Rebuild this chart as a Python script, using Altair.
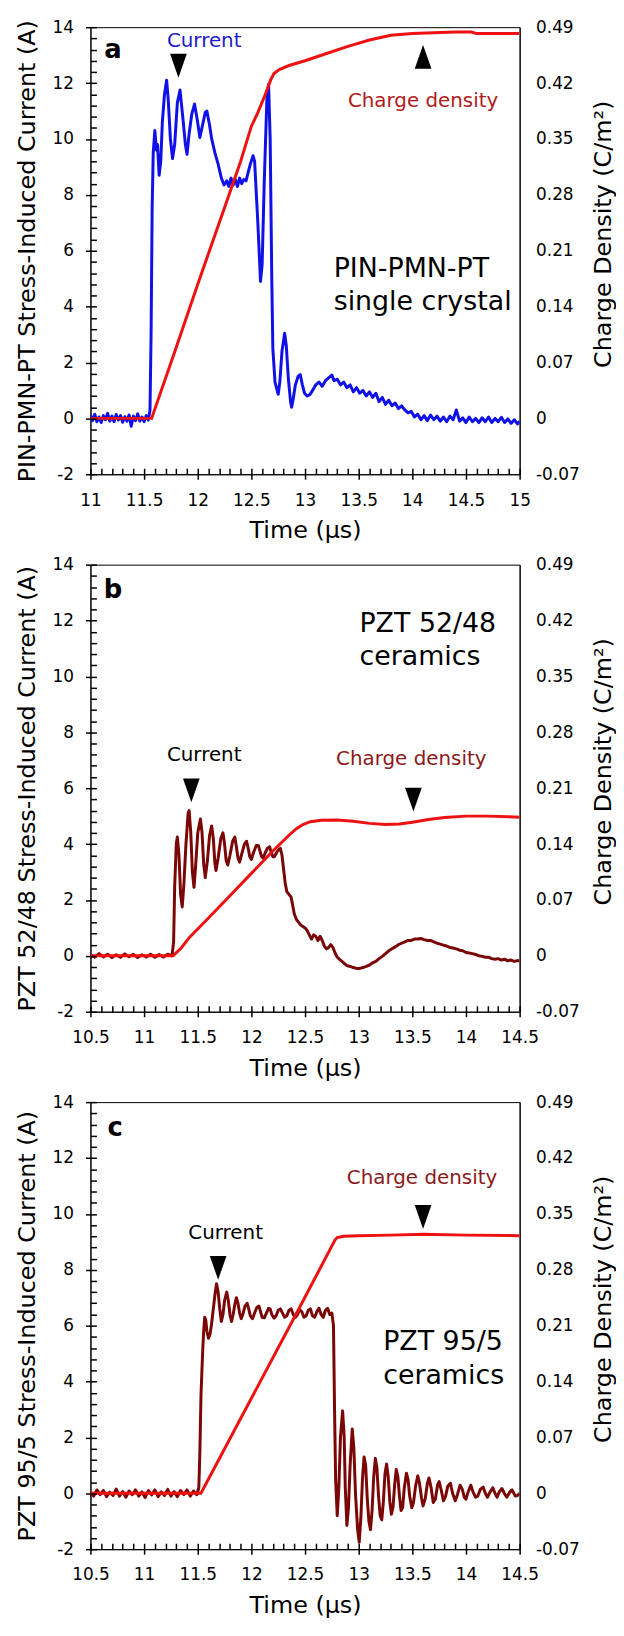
import altair as alt
import pandas as pd

FONT = "DejaVu Sans"
W, H = 432, 450

# ---------------- tick values ----------------
Y_TICKS = [-2, 0, 2, 4, 6, 8, 10, 12, 14]
Q_TICKS = [-0.07, 0, 0.07, 0.14, 0.21, 0.28, 0.35, 0.42, 0.49]
A_X_TICKS = [11, 11.5, 12, 12.5, 13, 13.5, 14, 14.5, 15]
BC_X_TICKS = [10.5, 11, 11.5, 12, 12.5, 13, 13.5, 14, 14.5]

# ---------------- panel a : PIN-PMN-PT ----------------
A_CUR_T = [11.00, 11.02, 11.04, 11.06, 11.08, 11.10, 11.12, 11.14, 11.16, 11.18, 11.20, 11.22, 11.24, 11.26,
           11.28, 11.30, 11.32, 11.34, 11.36, 11.38, 11.40, 11.42, 11.44, 11.46, 11.48, 11.50, 11.52, 11.54,
           11.555, 11.565, 11.575, 11.585, 11.60, 11.615, 11.625, 11.64, 11.655, 11.67, 11.69, 11.71, 11.725,
           11.745, 11.765, 11.785, 11.81, 11.835, 11.86, 11.885, 11.90, 11.92, 11.945, 11.97, 11.995, 12.02,
           12.045, 12.07, 12.085, 12.11, 12.13, 12.16, 12.19, 12.22, 12.245, 12.27, 12.29, 12.31, 12.33, 12.35,
           12.37, 12.39, 12.41, 12.43, 12.45, 12.47, 12.49, 12.515, 12.53, 12.56, 12.585, 12.60, 12.62, 12.645,
           12.66, 12.675, 12.69, 12.70, 12.72, 12.75, 12.765, 12.785, 12.81, 12.825, 12.845, 12.865, 12.875,
           12.89, 12.91, 12.935, 12.955, 12.975, 12.995, 13.02, 13.045, 13.07, 13.10, 13.13, 13.16, 13.19,
           13.22, 13.25, 13.27, 13.30, 13.33, 13.36, 13.39, 13.42, 13.45, 13.48, 13.51, 13.54, 13.57, 13.60,
           13.63, 13.66, 13.69, 13.72, 13.75, 13.78, 13.81, 13.84, 13.87, 13.90, 13.93, 13.96, 13.99, 14.02,
           14.05, 14.08, 14.11, 14.14, 14.17, 14.20, 14.23, 14.26, 14.29, 14.32, 14.35, 14.38, 14.41, 14.44,
           14.47, 14.50, 14.53, 14.56, 14.59, 14.62, 14.65, 14.68, 14.71, 14.74, 14.77, 14.80, 14.83, 14.86,
           14.89, 14.92, 14.95, 14.98, 15.00]
A_CUR_I = [0.12, -0.08, 0.15, -0.12, 0.05, -0.15, 0.10, -0.05, 0.18, -0.10, 0.08, -0.12, 0.14, -0.06,
           0.10, -0.14, 0.06, -0.10, 0.12, -0.28, 0.08, -0.08, 0.16, -0.10, 0.05, -0.12, 0.10, -0.06,
           0.30, 3.0, 7.5, 9.5, 10.3, 9.6, 9.8, 8.7, 9.2, 10.6, 11.6, 12.1, 11.4,
           10.0, 9.3, 9.8, 11.3, 11.75, 10.8, 9.8, 9.45, 10.2, 10.9, 11.25, 10.7, 10.05,
           10.5, 10.95, 11.0, 10.5, 10.0, 9.5, 9.1, 8.6, 8.35, 8.5, 8.3, 8.6, 8.35, 8.55,
           8.3, 8.6, 8.4, 8.55, 8.5, 8.8, 9.1, 9.4, 9.2, 7.0, 4.9, 5.5, 8.5, 11.5,
           11.95, 10.0, 5.0, 2.5, 1.3, 0.86, 1.3, 2.4, 3.05, 2.6, 1.4, 0.6, 0.4,
           0.7, 1.2, 1.5, 1.57, 1.2, 0.9, 0.8, 0.85, 1.0, 1.2, 1.3, 1.15, 1.35,
           1.45, 1.55, 1.35, 1.4, 1.2, 1.3, 1.1, 1.2, 0.95, 1.1, 0.9, 1.0, 0.8, 0.95,
           0.75, 0.9, 0.6, 0.75, 0.5, 0.65, 0.45, 0.55, 0.35, 0.45, 0.3, 0.2, 0.25, 0.05,
           0.15, -0.05, 0.10, -0.08, 0.12, -0.05, 0.08, -0.10, 0.05, -0.12, 0.08, -0.05, 0.30, -0.10,
           0.02, -0.15, 0.05, -0.12, 0.0, -0.15, 0.02, -0.12, 0.05, -0.15, 0.0, -0.12, 0.04, -0.15,
           -0.02, -0.18, -0.05, -0.20, -0.10]
A_Q_T = [11.0, 11.57, 11.8, 12.0, 12.26, 12.4, 12.5, 12.56, 12.63, 12.68, 12.71, 12.76, 12.85, 13.0,
         13.2, 13.4, 13.6, 13.8, 14.0, 14.2, 14.4, 14.55, 14.6, 15.0]
A_Q = [0, 0, 0.089, 0.168, 0.268, 0.322, 0.366, 0.383, 0.406, 0.424, 0.432, 0.437, 0.442, 0.448,
       0.457, 0.466, 0.474, 0.480, 0.482, 0.483, 0.484, 0.484, 0.482, 0.482]

# ---------------- panel b : PZT 52/48 ----------------
B_CUR_T = [10.50, 10.54, 10.58, 10.62, 10.66, 10.70, 10.74, 10.78, 10.82, 10.86, 10.90, 10.94, 10.98, 11.02,
           11.06, 11.10, 11.14, 11.18, 11.22, 11.26, 11.275, 11.285, 11.30, 11.31, 11.325, 11.34, 11.355,
           11.37, 11.39, 11.41, 11.42, 11.435, 11.45, 11.465, 11.48, 11.50, 11.525, 11.54, 11.555, 11.57,
           11.59, 11.61, 11.63, 11.645, 11.66, 11.67, 11.69, 11.715, 11.735, 11.75, 11.765, 11.78, 11.80,
           11.825, 11.845, 11.86, 11.875, 11.89, 11.91, 11.935, 11.955, 11.97, 11.985, 12.00, 12.02, 12.045,
           12.065, 12.08, 12.095, 12.11, 12.13, 12.15, 12.17, 12.185, 12.20, 12.215, 12.235, 12.255, 12.27,
           12.285, 12.30, 12.315, 12.33, 12.35, 12.37, 12.385, 12.40, 12.42, 12.44, 12.46, 12.48, 12.50,
           12.52, 12.54, 12.56, 12.58, 12.60, 12.62, 12.64, 12.66, 12.68, 12.70, 12.72, 12.74, 12.76, 12.78,
           12.80, 12.83, 12.86, 12.89, 12.92, 12.95, 12.98, 13.01, 13.04, 13.07, 13.10, 13.13, 13.16, 13.19,
           13.22, 13.25, 13.28, 13.31, 13.34, 13.37, 13.40, 13.43, 13.46, 13.49, 13.52, 13.55, 13.58, 13.61,
           13.64, 13.67, 13.70, 13.73, 13.76, 13.79, 13.82, 13.85, 13.88, 13.91, 13.94, 13.97, 14.00, 14.03,
           14.06, 14.09, 14.12, 14.15, 14.18, 14.21, 14.24, 14.27, 14.30, 14.33, 14.36, 14.39, 14.42, 14.45,
           14.48, 14.50]
B_CUR_I = [0.05, -0.05, 0.08, -0.04, 0.06, -0.06, 0.04, -0.05, 0.07, -0.03, 0.05, -0.06, 0.04, -0.04,
           0.06, -0.05, 0.05, -0.04, 0.06, 0.0, 0.5, 2.5, 4.0, 4.25, 3.6, 2.2, 1.75,
           2.5, 4.0, 5.1, 5.2, 4.4, 3.0, 2.45, 3.2, 4.4, 4.9, 4.4, 3.3, 2.8,
           3.4, 4.3, 4.65, 4.2, 3.3, 3.05, 3.5, 4.2, 4.4, 4.0, 3.4, 3.25, 3.6,
           4.1, 4.25, 3.9, 3.5, 3.35, 3.65, 4.0, 4.1, 3.85, 3.55, 3.45, 3.7, 3.95,
           3.95, 3.75, 3.55, 3.5, 3.7, 3.85, 3.9, 3.7, 3.55, 3.55, 3.7, 3.8, 3.85,
           3.6, 3.1, 2.6, 2.3, 2.2, 2.1, 1.8, 1.5, 1.3, 1.2, 1.1, 1.05, 1.0,
           0.9, 0.75, 0.6, 0.75, 0.7, 0.55, 0.7, 0.55, 0.35, 0.25, 0.3, 0.4, 0.3, 0.1,
           -0.05, -0.15, -0.25, -0.35, -0.38, -0.42, -0.45, -0.45, -0.42, -0.38, -0.33, -0.25, -0.2, -0.1,
           -0.02, 0.08, 0.18, 0.25, 0.32, 0.40, 0.45, 0.50, 0.55, 0.55, 0.60, 0.60, 0.62, 0.58,
           0.55, 0.55, 0.50, 0.45, 0.42, 0.38, 0.35, 0.30, 0.28, 0.25, 0.20, 0.18, 0.12, 0.10,
           0.08, 0.05, 0.0, -0.02, -0.05, -0.05, -0.10, -0.12, -0.10, -0.15, -0.12, -0.18, -0.15, -0.20,
           -0.17, -0.18]
B_Q_T = [10.5, 11.27, 11.35, 11.42, 11.6, 11.8, 12.0, 12.2, 12.36, 12.42, 12.48, 12.55, 12.65, 12.8,
         12.95, 13.1, 13.25, 13.38, 13.5, 13.65, 13.8, 14.0, 14.2, 14.4, 14.5]
B_Q = [0, 0, 0.0105, 0.0228, 0.0473, 0.0753, 0.1033, 0.1313, 0.1523, 0.1593, 0.1645, 0.168, 0.1698, 0.1701,
       0.1687, 0.1659, 0.1645, 0.1652, 0.1673, 0.1708, 0.1733, 0.175, 0.175, 0.1743, 0.1736]

# ---------------- panel c : PZT 95/5 ----------------
C_CUR_T = [10.50, 10.53, 10.56, 10.59, 10.62, 10.65, 10.68, 10.71, 10.74, 10.77, 10.80, 10.83, 10.86, 10.89,
           10.92, 10.95, 10.98, 11.01, 11.04, 11.07, 11.10, 11.13, 11.16, 11.19, 11.22, 11.25, 11.28, 11.31,
           11.34, 11.37, 11.40, 11.43, 11.46, 11.49, 11.51, 11.52, 11.53, 11.545, 11.555, 11.565, 11.575,
           11.585, 11.60, 11.615, 11.63, 11.645, 11.66, 11.675, 11.69, 11.705, 11.72, 11.735, 11.75, 11.77,
           11.785, 11.80, 11.815, 11.83, 11.845, 11.86, 11.875, 11.89, 11.905, 11.92, 11.94, 11.96, 11.975,
           11.99, 12.01, 12.03, 12.05, 12.07, 12.085, 12.10, 12.12, 12.14, 12.16, 12.175, 12.19, 12.21, 12.23,
           12.25, 12.27, 12.29, 12.31, 12.33, 12.35, 12.37, 12.39, 12.41, 12.43, 12.45, 12.47, 12.49, 12.51,
           12.53, 12.55, 12.57, 12.59, 12.61, 12.63, 12.65, 12.67, 12.69, 12.71, 12.73, 12.75, 12.765, 12.775,
           12.785, 12.80, 12.815, 12.83, 12.85, 12.865, 12.875, 12.89, 12.905, 12.92, 12.94, 12.955, 12.97,
           12.99, 13.005, 13.02, 13.035, 13.05, 13.065, 13.08, 13.095, 13.11, 13.125, 13.14, 13.155, 13.17,
           13.185, 13.20, 13.215, 13.23, 13.245, 13.26, 13.275, 13.29, 13.305, 13.32, 13.335, 13.35, 13.365,
           13.38, 13.395, 13.41, 13.425, 13.445, 13.46, 13.475, 13.495, 13.51, 13.53, 13.55, 13.565, 13.585,
           13.60, 13.62, 13.64, 13.655, 13.675, 13.695, 13.715, 13.735, 13.75, 13.77, 13.79, 13.81, 13.83,
           13.855, 13.875, 13.90, 13.92, 13.945, 13.965, 13.985, 14.00, 14.02, 14.045, 14.065, 14.09, 14.11,
           14.135, 14.16, 14.18, 14.20, 14.225, 14.25, 14.27, 14.29, 14.31, 14.335, 14.36, 14.38, 14.41,
           14.43, 14.46, 14.48, 14.50]
C_CUR_I = [0.05, -0.10, 0.12, -0.05, 0.10, -0.12, 0.04, -0.08, 0.15, -0.10, 0.06, -0.14, 0.08, -0.05,
           0.12, -0.10, 0.05, -0.15, 0.10, -0.06, 0.12, -0.12, 0.05, -0.08, 0.14, -0.10, 0.06, -0.12,
           0.10, -0.05, 0.12, -0.10, 0.08, -0.05, 0.20, 1.5, 3.5, 5.0, 5.8, 6.3, 6.2,
           5.8, 5.55, 5.7, 6.1, 6.6, 7.1, 7.5, 7.2, 6.6, 6.15, 6.4, 6.9, 7.2,
           6.9, 6.4, 6.15, 6.4, 6.75, 7.0, 6.8, 6.45, 6.25, 6.4, 6.7, 6.8, 6.6,
           6.35, 6.25, 6.45, 6.65, 6.7, 6.5, 6.3, 6.28, 6.45, 6.62, 6.6, 6.4, 6.27, 6.35,
           6.55, 6.6, 6.45, 6.3, 6.35, 6.55, 6.6, 6.4, 6.3, 6.4, 6.58, 6.5, 6.3, 6.35,
           6.55, 6.6, 6.35, 6.3, 6.5, 6.62, 6.4, 6.3, 6.55, 6.62, 6.4, 6.45, 6.0, 3.0,
           0.5, -0.8, 0.2, 2.0, 2.95, 2.0, 0.2, -1.15, -0.5, 1.0, 2.3, 1.6, 0.0,
           -1.3, -1.75, -0.9, 0.5, 1.3, 1.0, -0.2, -1.0, -1.3, -0.6, 0.6, 1.25, 0.9,
           -0.1, -0.8, -0.95, -0.3, 0.7, 1.05, 0.6, -0.3, -0.75, -0.5, 0.3, 0.85, 0.6,
           -0.1, -0.62, -0.5, 0.2, 0.72, 0.5, -0.1, -0.52, -0.35, 0.25, 0.62, 0.4, -0.15,
           -0.45, -0.2, 0.35, 0.55, 0.2, -0.33, -0.2, 0.3, 0.42, 0.1, -0.27, -0.1, 0.25,
           0.36, 0.0, -0.27, -0.05, 0.29, 0.15, -0.15, -0.21, 0.05, 0.29, 0.05, -0.14, -0.10,
           0.15, 0.22, 0.0, -0.14, 0.05, 0.20, 0.0, -0.14, 0.05, 0.17, -0.02, -0.14, 0.05,
           0.12, -0.10, -0.08, 0.0]
C_Q_T = [10.5, 11.53, 12.0, 12.45, 12.78, 12.8, 12.86, 13.0, 13.3, 13.6, 14.0, 14.5]
C_Q = [0, 0, 0.119, 0.233, 0.3175, 0.3203, 0.322, 0.3227, 0.3234, 0.3245, 0.3234, 0.3227]

# ---------------- annotations (data coordinates: time, current) ----------------
A_NOTE_TXT = ["Current", "Charge density"]
A_NOTE_T = [12.06, 14.10]
A_NOTE_I = [13.5, 11.36]
A_NOTE_COL = ["#1c1cc8", "#b01c1c"]
B_NOTE_TXT = ["Current", "Charge density"]
B_NOTE_T = [11.56, 13.49]
B_NOTE_I = [7.18, 7.06]
B_NOTE_COL = ["#000000", "#8c1a1a"]
C_NOTE_TXT = ["Current", "Charge density"]
C_NOTE_T = [11.76, 13.59]
C_NOTE_I = [9.32, 11.27]
C_NOTE_COL = ["#000000", "#8c1a1a"]

A_NAME = ["PIN-PMN-PT", "single crystal"]
A_NAME_T = [13.267, 13.267]
A_NAME_I = [5.35, 4.16]
B_NAME = ["PZT 52/48", "ceramics"]
B_NAME_T = [13.007, 13.007]
B_NAME_I = [11.86, 10.7]
C_NAME = ["PZT 95/5", "ceramics"]
C_NAME_T = [13.228, 13.228]
C_NAME_I = [5.4, 4.18]

A_TRI_T = [11.82, 14.10]
A_TRI_I = [12.62, 12.94]
A_TRI_DIR = ["down", "up"]
B_TRI_T = [11.44, 13.51]
B_TRI_I = [5.92, 5.59]
B_TRI_DIR = ["down", "down"]
C_TRI_T = [11.69, 13.60]
C_TRI_I = [8.07, 9.89]
C_TRI_DIR = ["down", "down"]

LETTER_T = {"a": 11.21, "b": 10.71, "c": 10.73}
LETTER_I = {"a": 13.17, "b": 13.1, "c": 13.08}

TRI_PATH = {"down": "M -0.7 -1 L 0.7 -1 L 0 1 Z", "up": "M -0.7 1 L 0.7 1 L 0 -1 Z"}

Y_LBL = "(datum.value < 0 ? '-' : '') + abs(datum.value)"
Q_LBL = "datum.value == 0 ? '0' : (datum.value < 0 ? '-' : '') + format(abs(datum.value), '.2f')"
X_LBL = "'' + datum.value"


def panel(letter, cur_t, cur_i, cur_color, q_t, q_v, xticks, ytitle,
          note_txt, note_t, note_i, note_col, name, name_t, name_i, tri_t, tri_i, tri_dir):
    x0, x1 = xticks[0], xticks[-1]
    xs = alt.Scale(domain=[x0, x1], nice=False, zero=False)
    ys = alt.Scale(domain=[-2, 14], nice=False, zero=False)
    qs = alt.Scale(domain=[-0.07, 0.49], nice=False, zero=False)
    x_minor = [round(x0 + 0.1 * k, 2) for k in range(int(round((x1 - x0) * 10)) + 1)]
    y_minor = [round(-2 + 0.4 * k, 2) for k in range(41)]

    cur_df = pd.DataFrame({"t": cur_t, "i": cur_i})
    q_df = pd.DataFrame({"t": q_t, "q": q_v})

    cur = alt.Chart(cur_df).mark_line(color=cur_color, strokeWidth=3, clip=True,
                                      strokeJoin="round").encode(
        x=alt.X("t:Q", scale=xs, axis=alt.Axis(
            orient="bottom", values=xticks, labelExpr=X_LBL, tickSize=5, tickWidth=1.5,
            labelPadding=13, labelFlush=False, title="Time (μs)", titleX=W / 2, titleY=57,
            titleAngle=0, titleAlign="center", titleBaseline="middle")),
        y=alt.Y("i:Q", scale=ys, axis=alt.Axis(
            orient="left", values=Y_TICKS, labelExpr=Y_LBL, tickSize=5, tickWidth=1.5,
            labelPadding=12, labelFlush=False, title=ytitle, titleX=-63, titleY=H / 2,
            titleAngle=270, titleAlign="center", titleBaseline="middle", titleLimit=700)),
    )

    q = alt.Chart(q_df).mark_line(color="#ee1111", strokeWidth=3, clip=True).encode(
        x=alt.X("t:Q", scale=xs, axis=alt.Axis(
            orient="top", offset=-H, values=x_minor, labels=False, domain=False,
            tickSize=6, tickWidth=1.5, title=None, zindex=1)),
        y=alt.Y("q:Q", scale=qs, axis=alt.Axis(
            orient="right", values=Q_TICKS, labelExpr=Q_LBL, ticks=False, tickSize=0,
            labelPadding=16, labelFlush=False, title="Charge Density (C/m²)",
            titleX=84, titleY=208, titleAngle=270, titleAlign="center",
            titleBaseline="middle", titleLimit=700)),
    )

    ticks_in = alt.Chart(cur_df).mark_line(strokeOpacity=0).encode(
        x=alt.X("t:Q", scale=xs, axis=None),
        y=alt.Y("i:Q", scale=ys, axis=alt.Axis(
            orient="right", offset=-W, values=y_minor, labels=False, domain=False,
            tickSize=6, tickWidth=1.5, title=None, zindex=1)),
    )

    notes_df = pd.DataFrame({"t": note_t, "i": note_i, "txt": note_txt, "col": note_col})
    notes = alt.Chart(notes_df).mark_text(font=FONT, fontSize=20, align="center",
                                          baseline="middle").encode(
        x=alt.X("t:Q", scale=xs, axis=None),
        y=alt.Y("i:Q", scale=ys, axis=None),
        text="txt:N",
        color=alt.Color("col:N", scale=None),
    )

    name_df = pd.DataFrame({"t": name_t, "i": name_i, "txt": name})
    names = alt.Chart(name_df).mark_text(font=FONT, fontSize=27, align="left",
                                         baseline="middle", color="black").encode(
        x=alt.X("t:Q", scale=xs, axis=None),
        y=alt.Y("i:Q", scale=ys, axis=None),
        text="txt:N",
    )

    let_df = pd.DataFrame({"t": [LETTER_T[letter]], "i": [LETTER_I[letter]], "txt": [letter]})
    let = alt.Chart(let_df).mark_text(font=FONT, fontSize=26, fontWeight="bold", align="center",
                                      baseline="middle", color="black").encode(
        x=alt.X("t:Q", scale=xs, axis=None),
        y=alt.Y("i:Q", scale=ys, axis=None),
        text="txt:N",
    )

    tri_df = pd.DataFrame({"t": tri_t, "i": tri_i, "shp": [TRI_PATH[d] for d in tri_dir]})
    tris = alt.Chart(tri_df).mark_point(filled=True, opacity=1, color="black", size=576,
                                        strokeWidth=0).encode(
        x=alt.X("t:Q", scale=xs, axis=None),
        y=alt.Y("i:Q", scale=ys, axis=None),
        shape=alt.Shape("shp:N", scale=None),
    )

    return alt.layer(cur, q, ticks_in, notes, names, let, tris).resolve_scale(
        x="independent", y="independent").properties(width=W, height=H)


pa = panel("a", A_CUR_T, A_CUR_I, "#1010e8", A_Q_T, A_Q, A_X_TICKS,
           "PIN-PMN-PT Stress-Induced Current (A)",
           A_NOTE_TXT, A_NOTE_T, A_NOTE_I, A_NOTE_COL, A_NAME, A_NAME_T, A_NAME_I,
           A_TRI_T, A_TRI_I, A_TRI_DIR)
pb = panel("b", B_CUR_T, B_CUR_I, "#7a0606", B_Q_T, B_Q, BC_X_TICKS,
           "PZT 52/48 Stress-Induced Current (A)",
           B_NOTE_TXT, B_NOTE_T, B_NOTE_I, B_NOTE_COL, B_NAME, B_NAME_T, B_NAME_I,
           B_TRI_T, B_TRI_I, B_TRI_DIR)
pc = panel("c", C_CUR_T, C_CUR_I, "#7a0606", C_Q_T, C_Q, BC_X_TICKS,
           "PZT 95/5 Stress-Induced Current (A)",
           C_NOTE_TXT, C_NOTE_T, C_NOTE_I, C_NOTE_COL, C_NAME, C_NAME_T, C_NAME_I,
           C_TRI_T, C_TRI_I, C_TRI_DIR)

chart = alt.vconcat(pa, pb, pc, spacing=91, bounds="flush").properties(
    padding={"left": 7, "top": 4, "right": 0, "bottom": 0}
).configure_view(
    stroke="black", strokeWidth=1
).configure_axis(
    labelFont=FONT, titleFont=FONT, labelFontSize=17, titleFontSize=24,
    titleFontWeight="normal", labelColor="black", titleColor="black",
    domainColor="black", tickColor="black", domainWidth=1, tickWidth=1, grid=False
)

chart.save("out.html", embed_options={"renderer": "svg", "actions": False})
